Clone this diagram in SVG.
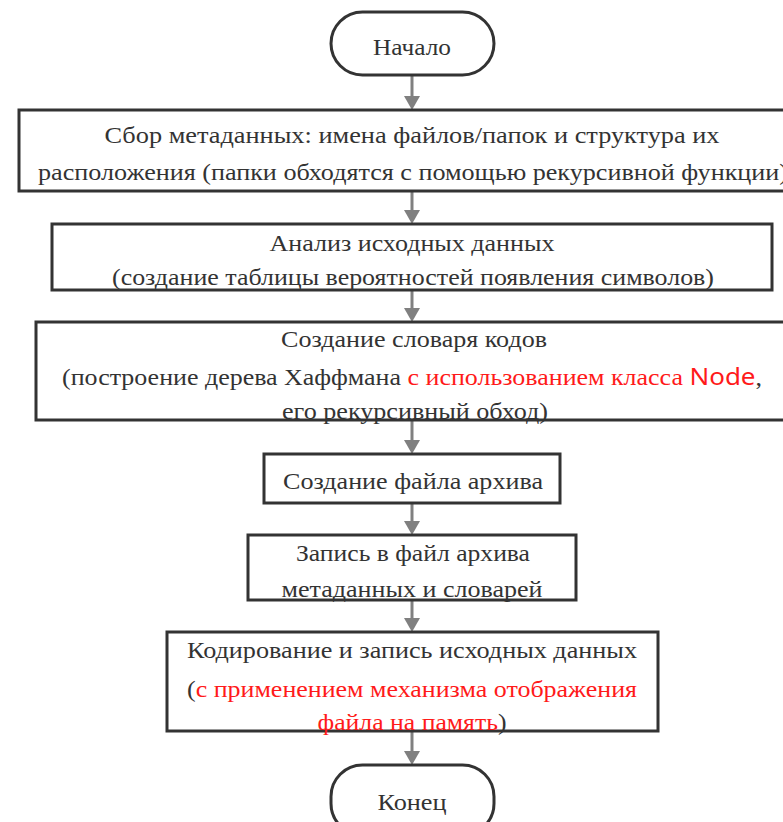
<svg xmlns="http://www.w3.org/2000/svg" width="783" height="822" viewBox="0 0 783 822">
<style>
.box{fill:#fff;stroke:#333;stroke-width:3}
.t{font-family:"Liberation Serif","Times New Roman",serif;font-size:24px;fill:#333;text-anchor:middle}
.r{fill:#ff1a1a}
.s{font-family:"Noto Sans","Liberation Sans",sans-serif}
.c{stroke:#808080;stroke-width:3;fill:none}
.h{fill:#808080}
</style>
<rect width="783" height="822" fill="#fff"/>
<g id="connectors">
<line class="c" x1="412" y1="75" x2="412" y2="96"/>
<path class="h" d="M404,96 L420,96 L412,110 Z"/>
<line class="c" x1="412" y1="191" x2="412" y2="210"/>
<path class="h" d="M404,210 L420,210 L412,224 Z"/>
<line class="c" x1="412" y1="290" x2="412" y2="308"/>
<path class="h" d="M404,308 L420,308 L412,322 Z"/>
<line class="c" x1="412" y1="420" x2="412" y2="440"/>
<path class="h" d="M404,440 L420,440 L412,454 Z"/>
<line class="c" x1="412" y1="503" x2="412" y2="521"/>
<path class="h" d="M404,521 L420,521 L412,535 Z"/>
<line class="c" x1="412" y1="600" x2="412" y2="618"/>
<path class="h" d="M404,618 L420,618 L412,632 Z"/>
<line class="c" x1="412" y1="731" x2="412" y2="751"/>
<path class="h" d="M404,751 L420,751 L412,765 Z"/>
</g>
<g id="start">
<rect class="box" x="331" y="12" width="163" height="63" rx="31.5"/>
<text class="t" x="412" y="55" textLength="78" lengthAdjust="spacingAndGlyphs">Начало</text>
</g>
<g id="n1">
<rect class="box" x="19" y="110" width="780" height="81"/>
<text class="t" x="412" y="143" textLength="615" lengthAdjust="spacingAndGlyphs">Сбор метаданных: имена файлов/папок и структура их</text>
<text class="t" x="38" y="180" style="text-anchor:start" textLength="750" lengthAdjust="spacingAndGlyphs">расположения (папки обходятся с помощью рекурсивной функции)</text>
</g>
<g id="n2">
<rect class="box" x="52" y="224" width="720" height="66"/>
<text class="t" x="412" y="251" textLength="285" lengthAdjust="spacingAndGlyphs">Анализ исходных данных</text>
<text class="t" x="413" y="285" textLength="602" lengthAdjust="spacingAndGlyphs">(создание таблицы вероятностей появления символов)</text>
</g>
<g id="n3">
<rect class="box" x="36" y="322" width="760" height="98"/>
<text class="t" x="414" y="347" textLength="266" lengthAdjust="spacingAndGlyphs">Создание словаря кодов</text>
<text class="t" x="62" y="385" style="text-anchor:start" textLength="700" lengthAdjust="spacingAndGlyphs">(построение дерева Хаффмана <tspan class="r">с использованием класса </tspan><tspan class="r s">Node</tspan>,</text>
<text class="t" x="415" y="419" textLength="266" lengthAdjust="spacingAndGlyphs">его рекурсивный обход)</text>
</g>
<g id="n4">
<rect class="box" x="264" y="454" width="296" height="49"/>
<text class="t" x="413" y="489" textLength="260" lengthAdjust="spacingAndGlyphs">Создание файла архива</text>
</g>
<g id="n5">
<rect class="box" x="248" y="535" width="328" height="65"/>
<text class="t" x="413" y="561" textLength="234" lengthAdjust="spacingAndGlyphs">Запись в файл архива</text>
<text class="t" x="412" y="597" textLength="261" lengthAdjust="spacingAndGlyphs">метаданных и словарей</text>
</g>
<g id="n6">
<rect class="box" x="167" y="632" width="491" height="99"/>
<text class="t" x="412" y="658" textLength="450" lengthAdjust="spacingAndGlyphs">Кодирование и запись исходных данных</text>
<text class="t" x="412" y="697" textLength="450" lengthAdjust="spacingAndGlyphs">(<tspan class="r">с применением механизма отображения</tspan></text>
<text class="t" x="412" y="730" textLength="189" lengthAdjust="spacingAndGlyphs"><tspan class="r">файла на память</tspan>)</text>
</g>
<g id="end">
<rect class="box" x="331" y="765" width="163" height="70" rx="31.5"/>
<text class="t" x="412" y="810" textLength="69" lengthAdjust="spacingAndGlyphs">Конец</text>
</g>
</svg>
